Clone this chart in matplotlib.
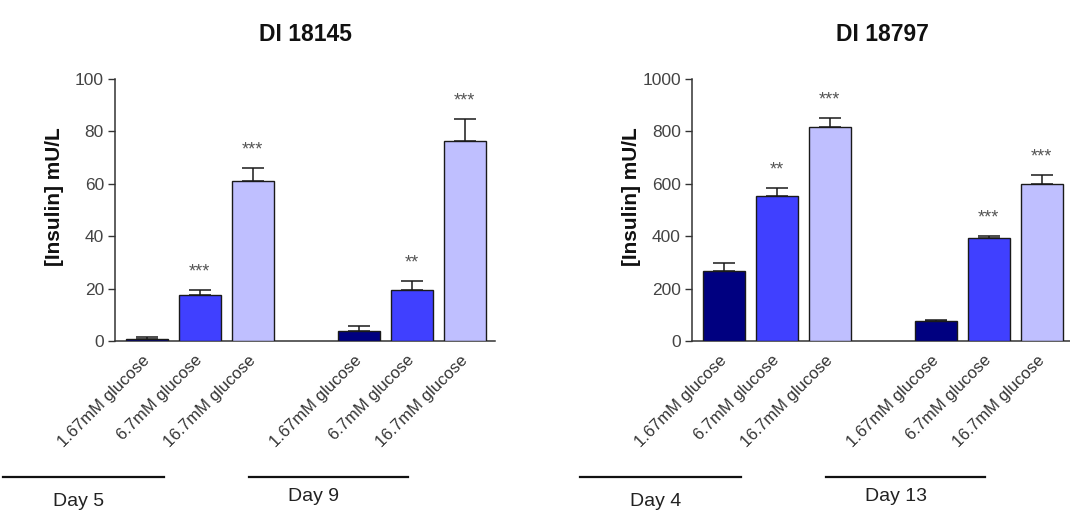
import matplotlib
matplotlib.use('Agg')
import matplotlib.pyplot as plt
import matplotlib.transforms as mtransforms

plt.rcParams['font.family'] = ['Liberation Sans', 'DejaVu Sans']

# ---------------- data ----------------
categories = ['1.67mM glucose', '6.7mM glucose', '16.7mM glucose']
bar_colors = ['#000080', '#4040FF', '#BFBFFF']

left_title = 'DI 18145'
left_days = ['Day 5', 'Day 9']
left_vals = [0.6, 17.4, 61.1, 4.0, 19.3, 76.3]
left_errs = [0.9, 1.9, 4.8, 1.8, 3.6, 8.6]
left_stars = ['', '***', '***', '', '**', '***']
left_yticks = [0, 20, 40, 60, 80, 100]

right_title = 'DI 18797'
right_days = ['Day 4', 'Day 13']
right_vals = [268, 552, 818, 76, 393, 598]
right_errs = [30, 32, 32, 6, 9, 35]
right_stars = ['', '**', '***', '', '***', '***']
right_yticks = [0, 200, 400, 600, 800, 1000]

# ---------------- layout ----------------
positions = [0, 1, 2, 4, 5, 6]
day_lines = [(-2.72, 0.33), (1.92, 4.92)]
day_text_x = [-1.77, 2.67]
day_text_y = [-0.613, -0.594]
line_y = -0.518

W, H = 1070, 513
fig = plt.figure(figsize=(W / 100, H / 100), dpi=100)

ax_w = 380 / W
ax_h = 262 / H
ax_b = (H - 341) / H
axL = fig.add_axes([115 / W, ax_b, ax_w, ax_h])
axR = fig.add_axes([692 / W, ax_b, ax_w, ax_h])

text_dark = '#333333'


def draw(ax, title, days, vals, errs, stars, yticks):
    labels = categories * 2
    cols = bar_colors * 2
    ax.bar(positions, vals, width=0.8, color=cols, edgecolor='#1a1a1a',
           linewidth=1.0, zorder=3)
    ax.errorbar(positions, vals, yerr=[[0] * len(errs), errs], fmt='none',
                ecolor='#1a1a1a', elinewidth=1.1, capsize=8, capthick=1.1,
                zorder=2)
    for x, v, e, s in zip(positions, vals, errs, stars):
        if s:
            ax.annotate(s, xy=(x, v + e), xytext=(0, 13),
                        textcoords='offset points', ha='center', va='center',
                        fontsize=13, color='#555555')
    ax.set_xlim(-0.6, 6.57)
    ax.set_ylim(0, yticks[-1])
    ax.set_yticks(yticks)
    ax.set_xticks(positions)
    ax.set_xticklabels(labels, rotation=45, ha='right', va='center',
                       rotation_mode='anchor', fontsize=12, color=text_dark)
    ax.tick_params(axis='x', length=0, pad=12)
    ax.tick_params(axis='y', length=5, width=1.0, color='#333333',
                   labelsize=12.5, labelcolor='#444444', pad=3)
    for sp in ['top', 'right']:
        ax.spines[sp].set_visible(False)
    for sp in ['left', 'bottom']:
        ax.spines[sp].set_color('#333333')
        ax.spines[sp].set_linewidth(1.1)
    ax.text(0.5, 1.168, title, transform=ax.transAxes, ha='center',
            va='center', fontsize=16.5, fontweight='bold', color='#111111')
    ax.text(-0.16, 0.55, '[Insulin] mU/L', transform=ax.transAxes,
            rotation=90, ha='center', va='center', fontsize=15,
            fontweight='bold', color='#111111')
    trans = mtransforms.blended_transform_factory(ax.transData, ax.transAxes)
    for (x0, x1), tx, ty, d in zip(day_lines, day_text_x, day_text_y, days):
        ax.plot([x0, x1], [line_y, line_y], transform=trans, clip_on=False,
                color='#111111', lw=1.6)
        ax.text(tx, ty, d, transform=trans, ha='left', va='center',
                fontsize=14, color='#222222')


draw(axL, left_title, left_days, left_vals, left_errs, left_stars, left_yticks)
draw(axR, right_title, right_days, right_vals, right_errs, right_stars, right_yticks)

fig.savefig('out.png', dpi=100)
